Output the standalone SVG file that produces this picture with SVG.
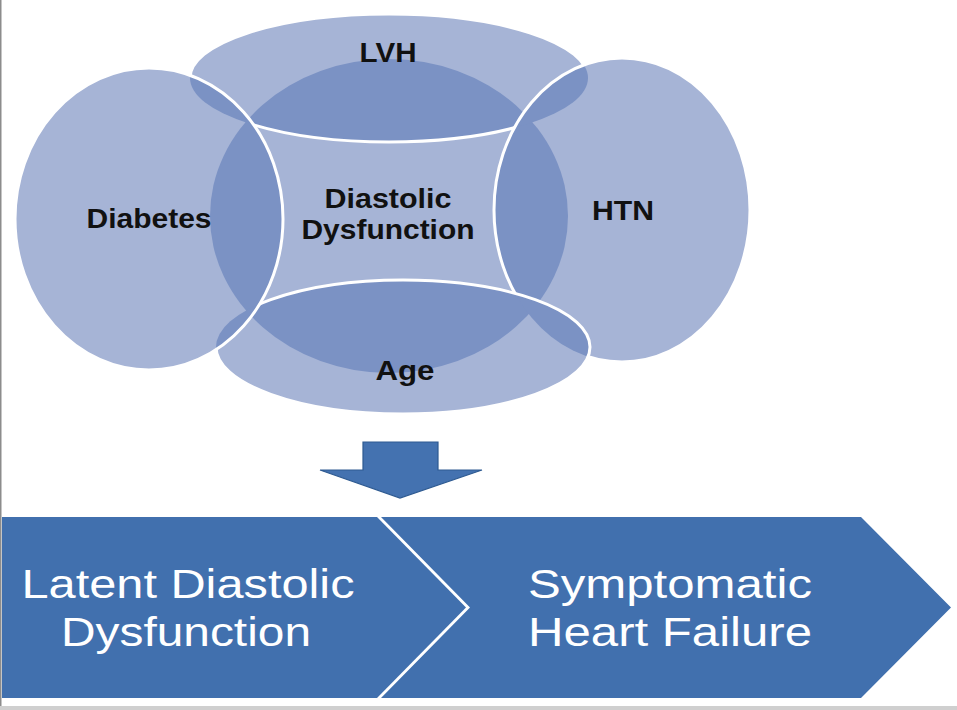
<svg xmlns="http://www.w3.org/2000/svg" width="957" height="710" viewBox="0 0 957 710">
  <style>
    .light { fill: #A6B4D6; }
    .dark { fill: #7B92C4; }
    .edge { fill: none; stroke: #FFFFFF; stroke-width: 3; }
    .lbl { font-family: "Liberation Sans", Arial, sans-serif; font-weight: bold; font-size: 28px; fill: #111111; text-anchor: middle; }
    .ban { font-family: "Liberation Sans", Arial, sans-serif; font-size: 40px; fill: #FFFFFF; text-anchor: middle; }
    .chev { fill: #4170AE; }
  </style>
  <defs>
    <ellipse id="eLVH" cx="389" cy="78" rx="199" ry="64"/>
    <ellipse id="eDia" cx="149" cy="219" rx="134" ry="151"/>
    <ellipse id="eHTN" cx="622" cy="210" rx="128" ry="152"/>
    <ellipse id="eAge" cx="403" cy="347" rx="187" ry="67"/>
    <ellipse id="eCen" cx="389" cy="216" rx="179" ry="157"/>
    <clipPath id="cCen"><use href="#eCen"/></clipPath>
    <clipPath id="cDia"><use href="#eDia"/></clipPath>
    <clipPath id="cHTN"><use href="#eHTN"/></clipPath>
    <mask id="mLVH" maskUnits="userSpaceOnUse" x="0" y="0" width="957" height="710">
      <rect x="0" y="0" width="957" height="710" fill="#fff"/>
      <use href="#eDia" fill="#000"/>
      <use href="#eHTN" fill="#000"/>
    </mask>
    <mask id="mHTN" maskUnits="userSpaceOnUse" x="0" y="0" width="957" height="710">
      <rect x="0" y="0" width="957" height="710" fill="#fff"/>
      <use href="#eAge" fill="#000"/>
    </mask>
    <mask id="mAge" maskUnits="userSpaceOnUse" x="0" y="0" width="957" height="710">
      <rect x="0" y="0" width="957" height="710" fill="#fff"/>
      <use href="#eDia" fill="#000"/>
    </mask>
  </defs>

  <rect x="0" y="0" width="957" height="710" fill="#FFFFFF"/>

  <!-- base fills -->
  <g id="central">
    <use href="#eCen" class="light"/>
  </g>
  <g id="lvh">
    <use href="#eLVH" class="light"/>
  </g>
  <g id="htn">
    <use href="#eHTN" class="light"/>
  </g>
  <g id="age">
    <use href="#eAge" class="light"/>
  </g>
  <g id="diabetes">
    <use href="#eDia" class="light"/>
  </g>

  <!-- overlaps -->
  <g id="overlaps">
    <g clip-path="url(#cCen)">
      <use href="#eLVH" class="dark"/>
      <use href="#eDia" class="dark"/>
      <use href="#eHTN" class="dark"/>
      <use href="#eAge" class="dark"/>
    </g>
    <g clip-path="url(#cDia)">
      <use href="#eLVH" class="dark"/>
      <use href="#eAge" class="dark"/>
    </g>
    <g clip-path="url(#cHTN)">
      <use href="#eLVH" class="dark"/>
      <use href="#eAge" class="dark"/>
    </g>
  </g>

  <!-- white outlines in stacking order -->
  <g id="outlines">
    <use href="#eLVH" class="edge" mask="url(#mLVH)"/>
    <use href="#eHTN" class="edge" mask="url(#mHTN)"/>
    <use href="#eAge" class="edge" mask="url(#mAge)"/>
    <use href="#eDia" class="edge"/>
  </g>

  <!-- labels -->
  <g id="labels">
    <text class="lbl" x="388" y="62" textLength="57" lengthAdjust="spacingAndGlyphs">LVH</text>
    <text class="lbl" x="149" y="228" textLength="125" lengthAdjust="spacingAndGlyphs">Diabetes</text>
    <text class="lbl" x="623" y="220" textLength="62" lengthAdjust="spacingAndGlyphs">HTN</text>
    <text class="lbl" x="405" y="380" textLength="59" lengthAdjust="spacingAndGlyphs">Age</text>
    <text class="lbl" x="388" y="208" textLength="127" lengthAdjust="spacingAndGlyphs">Diastolic</text>
    <text class="lbl" x="388" y="239" textLength="173" lengthAdjust="spacingAndGlyphs">Dysfunction</text>
  </g>

  <!-- down arrow -->
  <g id="connectors">
    <path d="M363,442 L438,442 L438,470 L482,470 L400,498 L320,470 L363,470 Z" fill="#4472B0" stroke="#2E5A91" stroke-width="1.2" stroke-linejoin="miter"/>
  </g>

  <!-- chevron banner -->
  <g id="latent">
    <path class="chev" d="M2,517 L377,517 L466,607.5 L377,698 L2,698 Z"/>
    <text class="ban" x="188" y="598" textLength="333" lengthAdjust="spacingAndGlyphs">Latent Diastolic</text>
    <text class="ban" x="186" y="646" textLength="250" lengthAdjust="spacingAndGlyphs">Dysfunction</text>
  </g>
  <g id="symptomatic">
    <path class="chev" d="M381,517 L861,517 L951,607.5 L861,698 L381,698 L470,607.5 Z"/>
    <text class="ban" x="670" y="598" textLength="284" lengthAdjust="spacingAndGlyphs">Symptomatic</text>
    <text class="ban" x="670" y="646" textLength="284" lengthAdjust="spacingAndGlyphs">Heart Failure</text>
  </g>

  <!-- frame lines -->
  <rect x="0" y="0" width="1.5" height="710" fill="#8C8C8C"/>
  <rect x="0" y="706" width="957" height="4" fill="#CFCFCF"/>
</svg>
